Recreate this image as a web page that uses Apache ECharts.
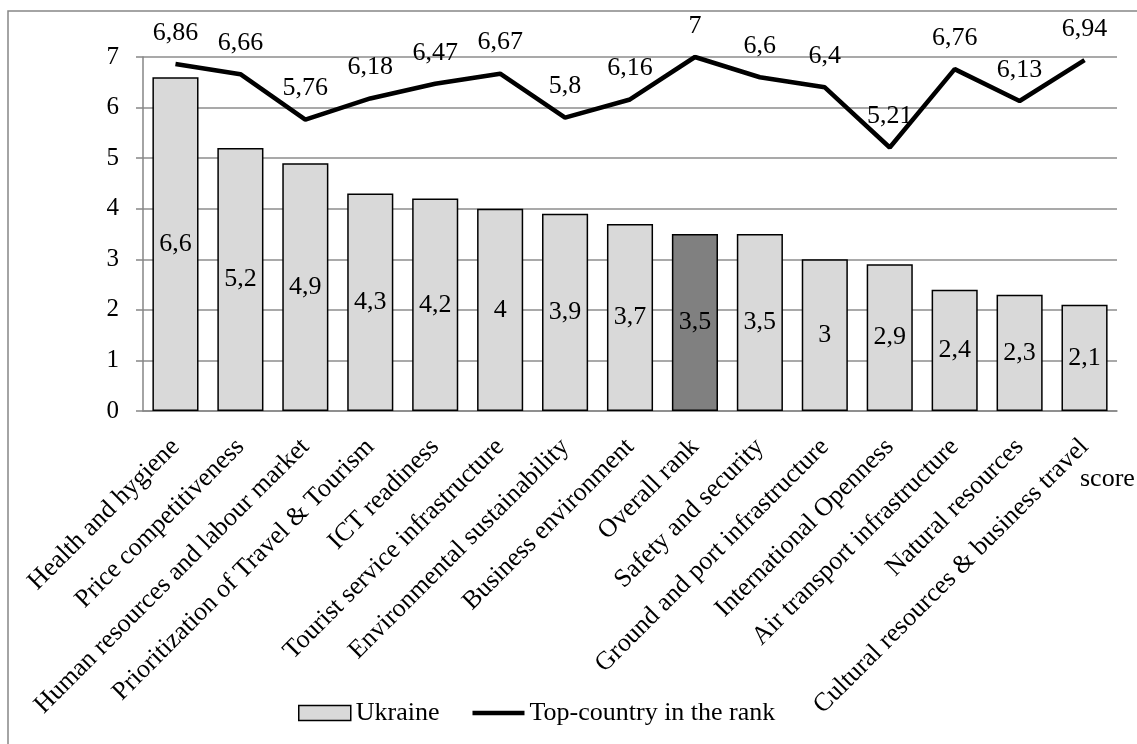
<!DOCTYPE html>
<html>
<head>
<meta charset="utf-8">
<script src="https://cdn.jsdelivr.net/npm/echarts@6/dist/echarts.min.js"></script>
<style>
  html, body { margin: 0; padding: 0; background: #fff; }
  #chart { width: 1137px; height: 744px; }
</style>
</head>
<body>
<div id="chart"></div>
<script>
const categories = [
  "Health and hygiene",
  "Price competitiveness",
  "Human resources and labour market",
  "Prioritization of Travel & Tourism",
  "ICT readiness",
  "Tourist service infrastructure",
  "Environmental sustainability",
  "Business environment",
  "Overall rank",
  "Safety and security",
  "Ground and port infrastructure",
  "International Openness",
  "Air transport infrastructure",
  "Natural resources",
  "Cultural resources & business travel"
];
const ukraine = [6.6, 5.2, 4.9, 4.3, 4.2, 4, 3.9, 3.7, 3.5, 3.5, 3, 2.9, 2.4, 2.3, 2.1];
const topCountry = [6.86, 6.66, 5.76, 6.18, 6.47, 6.67, 5.8, 6.16, 7, 6.6, 6.4, 5.21, 6.76, 6.13, 6.94];
const highlighted = "Overall rank";

const font = "'Liberation Serif', 'Times New Roman', serif";
const comma = v => String(v).replace(".", ",");

const chart = echarts.init(document.getElementById("chart"));
chart.setOption({
  backgroundColor: "#fff",
  animation: false,
  textStyle: { fontFamily: font, color: "#000" },
  grid: { left: 143, right: 20, top: 57, bottom: 333 },
  legend: {
    left: 293,
    top: 695,
    itemWidth: 52,
    itemHeight: 15,
    itemGap: 33,
    textStyle: { fontFamily: font, fontSize: 26, color: "#000" },
    data: [
      {
        name: "Ukraine",
        icon: "rect",
        itemStyle: { color: "#d9d9d9", borderColor: "#000", borderWidth: 1.5 }
      },
      {
        name: "Top-country in the rank",
        icon: "path://M0,0L52,0L52,4.5L0,4.5Z",
        itemStyle: { color: "#000" }
      }
    ]
  },
  graphic: [
    {
      type: "rect",
      shape: { x: 8, y: 11, width: 1300, height: 900 },
      style: { fill: "none", stroke: "#868686", lineWidth: 1.5 },
      silent: true
    },
    {
      type: "text",
      left: 1080,
      top: 466,
      style: { text: "score", font: "26px " + font, fill: "#000" }
    }
  ],
  xAxis: {
    type: "category",
    data: categories,
    axisLine: { lineStyle: { color: "#868686", width: 1.5 } },
    axisTick: { length: 7, lineStyle: { color: "#868686", width: 1.5 } },
    axisLabel: {
      rotate: 45,
      margin: 32,
      interval: 0,
      fontFamily: font,
      fontSize: 26,
      color: "#000"
    }
  },
  yAxis: {
    type: "value",
    min: 0,
    max: 7,
    interval: 1,
    axisLine: { show: true, lineStyle: { color: "#868686", width: 1.5 } },
    axisTick: { show: true, length: 7, lineStyle: { color: "#868686", width: 1.5 } },
    axisLabel: { margin: 24, fontFamily: font, fontSize: 25, color: "#000" },
    splitLine: { lineStyle: { color: "#8c8c8c", width: 1.5 } }
  },
  series: [
    {
      name: "Ukraine",
      type: "bar",
      barCategoryGap: "29%",
      data: ukraine.map((v, i) => ({
        value: v,
        itemStyle: { color: categories[i] === highlighted ? "#808080" : "#d9d9d9" }
      })),
      itemStyle: { borderColor: "#000", borderWidth: 1.5 },
      label: {
        show: true,
        position: "inside",
        fontFamily: font,
        fontSize: 26,
        color: "#000",
        formatter: p => comma(p.value)
      }
    },
    {
      name: "Top-country in the rank",
      type: "line",
      data: topCountry,
      symbol: "circle",
      symbolSize: 0.1,
      showSymbol: true,
      lineStyle: { color: "#000", width: 4.5 },
      itemStyle: { color: "#000" },
      label: {
        show: true,
        position: "top",
        distance: 18,
        fontFamily: font,
        fontSize: 26,
        color: "#000",
        formatter: p => comma(p.value)
      },
      z: 5
    }
  ]
});
</script>
</body>
</html>
